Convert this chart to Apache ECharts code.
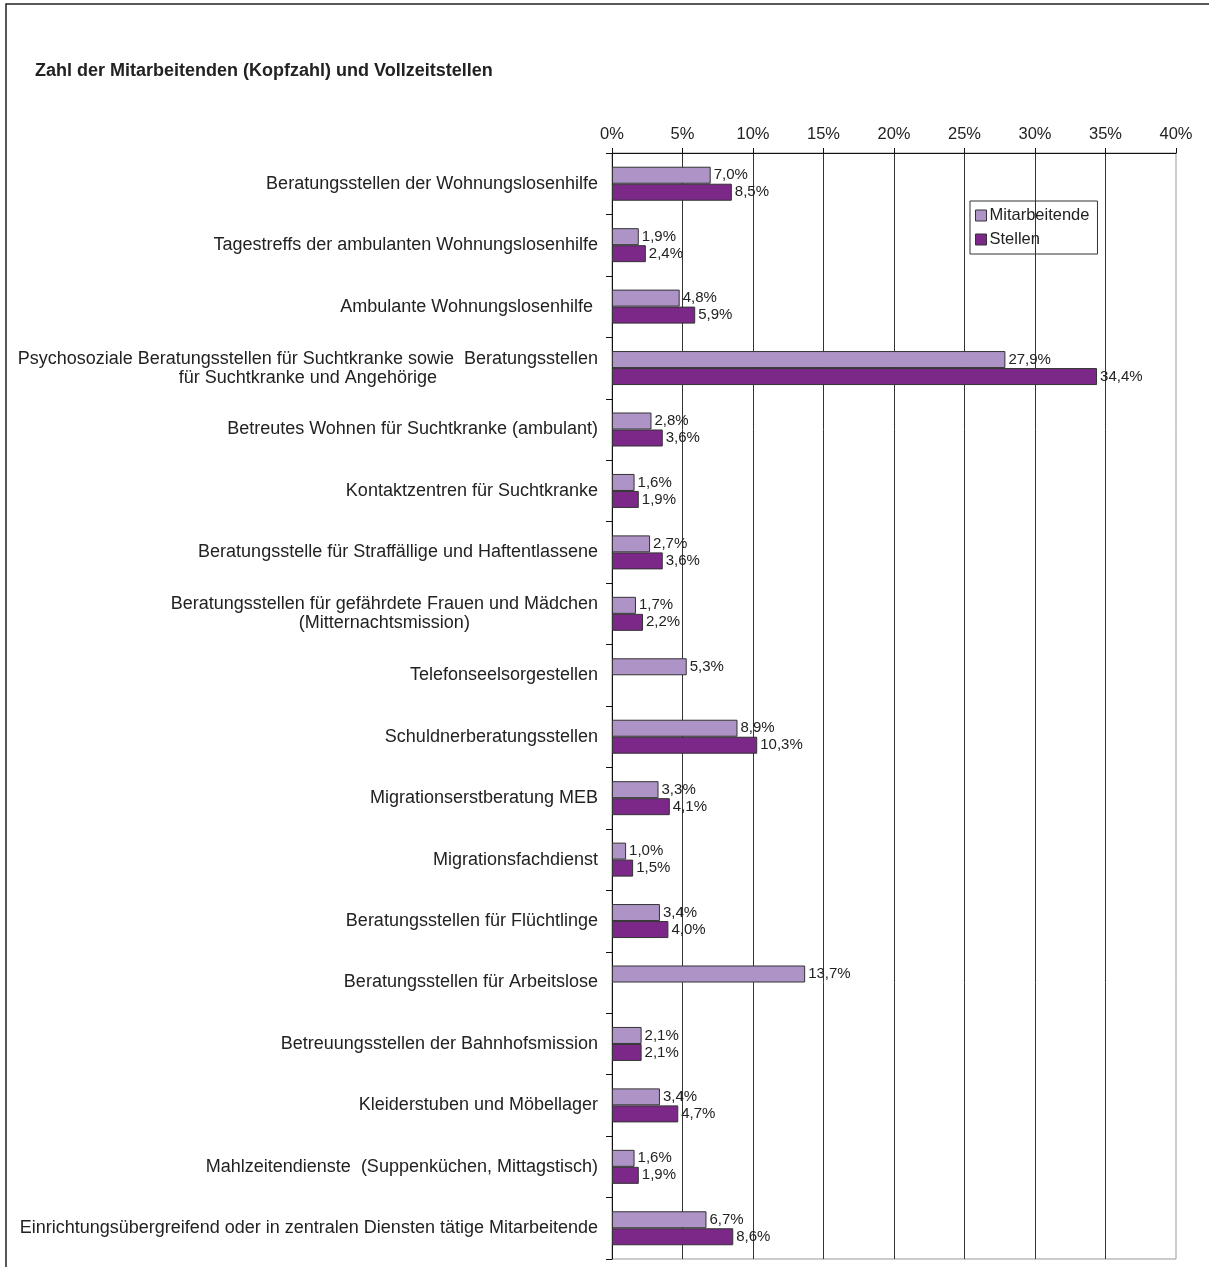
<!DOCTYPE html>
<html>
<head>
<meta charset="utf-8">
<script src="https://cdn.jsdelivr.net/npm/echarts@6/dist/echarts.min.js"></script>
<style>
html,body{margin:0;padding:0;background:#fff;}
#chart{width:1209px;height:1267px;}
</style>
</head>
<body>
<div id="chart"></div>
<script>
const titleText = 'Zahl der Mitarbeitenden (Kopfzahl) und Vollzeitstellen';
const categories = [
  'Beratungsstellen der Wohnungslosenhilfe',
  'Tagestreffs der ambulanten Wohnungslosenhilfe',
  'Ambulante Wohnungslosenhilfe ',
  'Psychosoziale Beratungsstellen für Suchtkranke sowie  Beratungsstellen\nfür Suchtkranke und Angehörige',
  'Betreutes Wohnen für Suchtkranke (ambulant)',
  'Kontaktzentren für Suchtkranke',
  'Beratungsstelle für Straffällige und Haftentlassene',
  'Beratungsstellen für gefährdete Frauen und Mädchen\n(Mitternachtsmission)',
  'Telefonseelsorgestellen',
  'Schuldnerberatungsstellen',
  'Migrationserstberatung MEB',
  'Migrationsfachdienst',
  'Beratungsstellen für Flüchtlinge',
  'Beratungsstellen für Arbeitslose',
  'Betreuungsstellen der Bahnhofsmission',
  'Kleiderstuben und Möbellager',
  'Mahlzeitendienste  (Suppenküchen, Mittagstisch)',
  'Einrichtungsübergreifend oder in zentralen Diensten tätige Mitarbeitende'
];
const seriesNames = ['Mitarbeitende', 'Stellen'];
const mitarbeitende = [7.0, 1.9, 4.8, 27.9, 2.8, 1.6, 2.7, 1.7, 5.3, 8.9, 3.3, 1.0, 3.4, 13.7, 2.1, 3.4, 1.6, 6.7];
const stellen = [8.5, 2.4, 5.9, 34.4, 3.6, 1.9, 3.6, 2.2, null, 10.3, 4.1, 1.5, 4.0, null, 2.1, 4.7, 1.9, 8.6];
const xMin = 0, xMax = 40, xStep = 5;

const FONT = "'Liberation Sans', Arial, sans-serif";
const chart = echarts.init(document.getElementById('chart'));
const fmtPct = p => (p.value == null ? '' : p.value.toFixed(1).replace('.', ',') + '%');
const barLabel = {
  show: true, position: 'right', distance: 3,
  color: '#222', fontSize: 15, fontFamily: FONT
};
chart.setOption({
  animation: false,
  backgroundColor: '#fff',
  textStyle: { fontFamily: FONT },
  title: {
    text: titleText, left: 30, top: 57,
    textStyle: { fontSize: 18, fontWeight: 'bold', color: '#222', fontFamily: FONT }
  },
  graphic: [{
    type: 'rect', z: -10, silent: true,
    shape: { x: 6, y: 4, width: 1400, height: 1400 },
    style: { fill: 'none', stroke: '#222', lineWidth: 1.5 }
  }],
  legend: {
    orient: 'vertical', left: 970, top: 201,
    data: seriesNames,
    icon: 'rect', itemWidth: 11, itemHeight: 11, itemGap: 7,
    padding: [6, 8, 6, 5],
    borderColor: '#333', borderWidth: 1,
    textStyle: { fontSize: 16.5, color: '#222', fontFamily: FONT, padding: [0, 0, 0, -2] },
    itemStyle: { borderColor: '#333', borderWidth: 1 }
  },
  grid: { left: 612, top: 153, right: 33, bottom: 8, show: true, borderColor: '#999', borderWidth: 1 },
  xAxis: {
    type: 'value', position: 'top', min: xMin, max: xMax, interval: xStep,
    axisLine: { show: true, lineStyle: { color: '#111', width: 1 } },
    axisTick: { show: true, length: 5, lineStyle: { color: '#111' } },
    axisLabel: { formatter: '{value}%', fontSize: 16.5, color: '#222', margin: 10, fontFamily: FONT },
    splitLine: { show: true, showMaxLine: false, lineStyle: { color: '#333', width: 1 } }
  },
  yAxis: {
    type: 'category', inverse: true, data: categories,
    axisLine: { show: true, lineStyle: { color: '#111', width: 1 } },
    axisTick: { show: true, length: 6, interval: 0, lineStyle: { color: '#111' } },
    axisLabel: {
      interval: 0, margin: 14, color: '#222', fontSize: 18, fontFamily: FONT, lineHeight: 19,
      formatter: v => v.split('\n').map(s => '{c|' + s + '}').join('\n'),
      rich: { c: { align: 'center', fontSize: 18, lineHeight: 19, color: '#222', fontFamily: FONT } }
    },
    splitLine: { show: false }
  },
  series: [
    {
      name: seriesNames[0], type: 'bar', data: mitarbeitende,
      barWidth: 17, barGap: '0%',
      itemStyle: { color: '#AD93C6', borderColor: '#333', borderWidth: 1 },
      label: Object.assign({ formatter: fmtPct }, barLabel)
    },
    {
      name: seriesNames[1], type: 'bar', data: stellen,
      barWidth: 17, barGap: '0%',
      itemStyle: { color: '#7B2888', borderColor: '#333', borderWidth: 1 },
      label: Object.assign({ formatter: fmtPct }, barLabel)
    }
  ]
});
</script>
</body>
</html>
